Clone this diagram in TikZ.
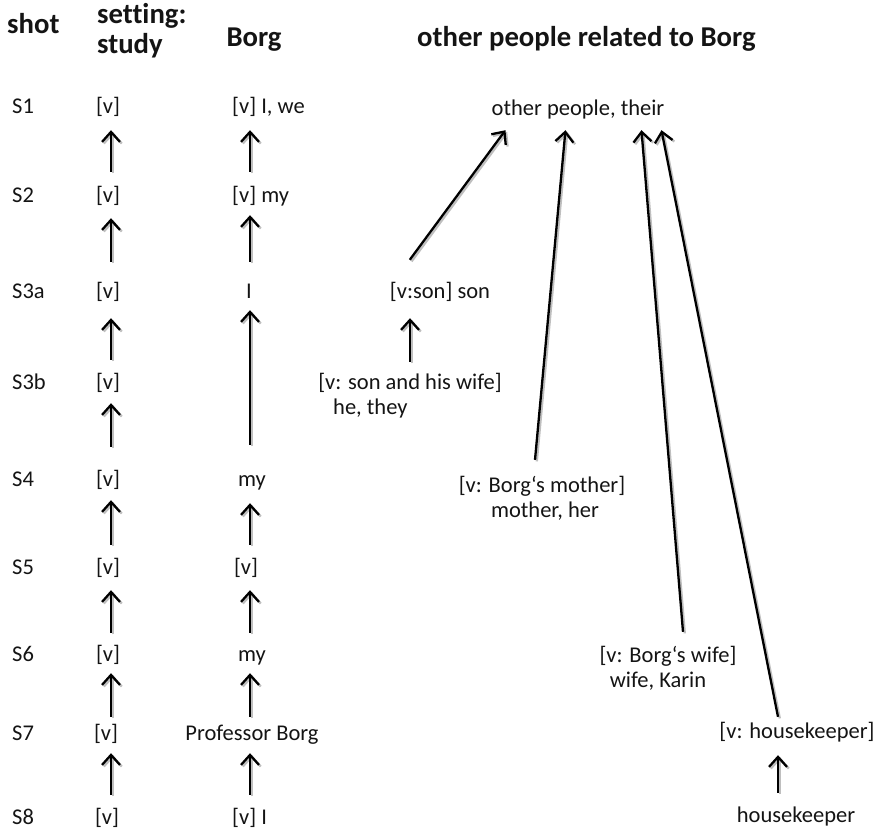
\documentclass[tikz,border=0pt]{standalone}
\usepackage{fontspec}
\setmainfont{Carlito}[Ligatures=NoCommon]
\usetikzlibrary{arrows.meta}
\newcommand\garr[3]{%
  \draw[arr,#1,draw=gray!50,transform canvas={xshift=1.8pt,yshift=-1.6pt}] #2 -- #3;
  \draw[arr,#1] #2 -- #3;}
\begin{document}
\begin{tikzpicture}[x=1pt,y=-1pt,
  lbl/.style={inner sep=0pt, text height=16pt, text depth=5pt, font=\fontsize{22.5}{27}\selectfont, text=black!92},
  hdr/.style={inner sep=0pt, font=\fontsize{28.7}{30}\selectfont\bfseries, text=black!92, align=left},
  arr/.style={line width=2.3pt, -{Straight Barb[length=10pt,width=18pt,line width=2.3pt]}},
  sh/.style 2 args={shorten <=#1pt, shorten >=#2pt}]
\useasboundingbox (0,0) rectangle (876,830);
\coordinate (ax) at (111,0);
\coordinate (bx) at (250,0);
\coordinate (hkx) at (778,0);
% headers
\node[hdr, anchor=base west] (hshot) at (7,33) {shot};
\node[hdr, anchor=base west] (hset) at (97,53) {setting:\\study};
\node[hdr, anchor=base] (hborg) at (254,46) {Borg};
\node[hdr, anchor=base west] (hoth) at (417,46) {other people related to Borg};
% shot labels
\node[lbl, anchor=base west] (s1) at (12,113) {S1};
\node[lbl, anchor=base west] (s2) at (12,202) {S2};
\node[lbl, anchor=base west] (s3) at (12,298) {S3a};
\node[lbl, anchor=base west] (s4) at (12,389) {S3b};
\node[lbl, anchor=base west] (s5) at (12,486) {S4};
\node[lbl, anchor=base west] (s6) at (12,574) {S5};
\node[lbl, anchor=base west] (s7) at (12,661) {S6};
\node[lbl, anchor=base west] (s8) at (12,740) {S7};
\node[lbl, anchor=base west] (s9) at (12,824) {S8};
% setting column
\node[lbl, anchor=base] (a1) at (108,113) {[v]};
\node[lbl, anchor=base] (a2) at (108,202) {[v]};
\node[lbl, anchor=base] (a3) at (108,298) {[v]};
\node[lbl, anchor=base] (a4) at (108,389) {[v]};
\node[lbl, anchor=base] (a5) at (108,486) {[v]};
\node[lbl, anchor=base] (a6) at (108,574) {[v]};
\node[lbl, anchor=base] (a7) at (108,661) {[v]};
\node[lbl, anchor=base] (a8) at (106,740) {[v]};
\node[lbl, anchor=base] (a9) at (107,824) {[v]};
% Borg column
\node[lbl, anchor=base west] (b1) at (232,113) {[v] I, we};
\node[lbl, anchor=base west] (b2) at (232,202) {[v] my};
\node[lbl, anchor=base] (b3) at (249,298) {I};
\node[lbl, anchor=base] (b5) at (252,486) {my};
\node[lbl, anchor=base] (b6) at (246,574) {[v]};
\node[lbl, anchor=base] (b7) at (252,661) {my};
\node[lbl, anchor=base] (b8) at (252,740) {Professor Borg};
\node[lbl, anchor=base west] (b9) at (232,824) {[v] I};
% other people
\node[lbl, anchor=base] (oth) at (578,115) {other people, their};
\node[lbl, anchor=base] (son) at (440,298) {[v:son] son};
\node[lbl, anchor=base] (sw) at (410,389) {[v: son and his wife]};
\node[lbl, anchor=base west] (sw2) at (333,414) {he, they};
\node[lbl, anchor=base] (mo) at (542,492) {[v: Borg‘s mother]};
\node[lbl, anchor=base] (mo2) at (545,517) {mother, her};
\node[lbl, anchor=base] (wi) at (668,662) {[v: Borg‘s wife]};
\node[lbl, anchor=base] (wi2) at (658,687) {wife, Karin};
\node[lbl, anchor=base] (hk) at (797,738) {[v: housekeeper]};
\node[lbl, anchor=base] (hk2) at (796,822) {housekeeper};
% setting arrows
\garr{sh={14}{12}}{(a2.north -| ax)}{(a1.south -| ax)}
\garr{sh={20}{11}}{(a3.north -| ax)}{(a2.south -| ax)}
\garr{sh={13}{15}}{(a4.north -| ax)}{(a3.south -| ax)}
\garr{sh={23}{9}}{(a5.north -| ax)}{(a4.south -| ax)}
\garr{sh={13}{9}}{(a6.north -| ax)}{(a5.south -| ax)}
\garr{sh={12}{11}}{(a7.north -| ax)}{(a6.south -| ax)}
\garr{sh={7}{7}}{(a8.north -| ax)}{(a7.south -| ax)}
\garr{sh={13}{8}}{(a9.north -| ax)}{(a8.south -| ax)}
% Borg arrows
\garr{sh={14}{12}}{(b2.north -| bx)}{(b1.south -| bx)}
\garr{sh={20}{8}}{(b3.north -| bx)}{(b2.south -| bx)}
\garr{sh={25}{7}}{(b5.north -| bx)}{(b3.south -| bx)}
\garr{sh={13}{12}}{(b6.north -| bx)}{(b5.south -| bx)}
\garr{sh={12}{11}}{(b7.north -| bx)}{(b6.south -| bx)}
\garr{sh={7}{7}}{(b8.north -| bx)}{(b7.south -| bx)}
\garr{sh={13}{8}}{(b9.north -| bx)}{(b8.south -| bx)}
% other people arrows
\garr{}{([shift={(20,-22)}]son.north west)}{([shift={(14,10)}]oth.south west)}
\garr{sh={11}{15}}{(sw.north)}{(son.south -| sw.north)}
\garr{}{([shift={(-7,-16)}]mo.north)}{([shift={(74,10)}]oth.south west)}
\garr{}{([shift={(15,-14)}]wi.north)}{([shift={(150,10)}]oth.south west)}
\garr{}{([shift={(-19,-5)}]hk.north)}{([shift={(170,10)}]oth.south west)}
\garr{sh={13}{12}}{(hk2.north -| hkx)}{(hk.south -| hkx)}
\end{tikzpicture}
\end{document}
